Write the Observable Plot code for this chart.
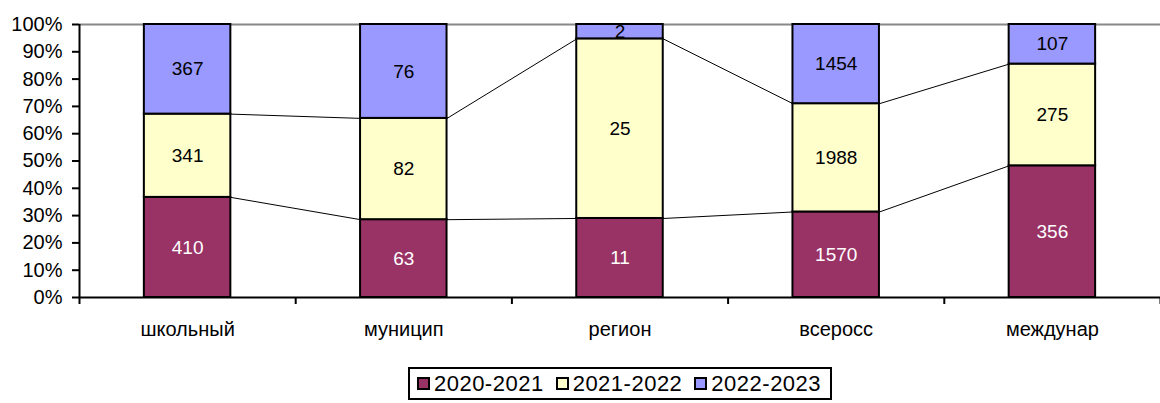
<!DOCTYPE html>
<html><head><meta charset="utf-8">
<script src="https://cdn.jsdelivr.net/npm/d3@7"></script>
<script src="https://cdn.jsdelivr.net/npm/@observablehq/plot@0.6"></script>
<style>
body{margin:0;background:#fff;font-family:"Liberation Sans",Arial,sans-serif;}
#legend{display:flex;justify-content:center;margin-top:7px;padding-left:80px;}
#legend .box{border:2px solid #000;display:flex;align-items:center;gap:12px;padding:0 9px 0 7px;height:33px;box-sizing:border-box;font-size:22px;letter-spacing:0.5px;}
#legend .it{display:flex;align-items:center;gap:4px;}
#legend .sw{width:9px;height:9px;border:2px solid #000;}
</style></head>
<body><div id="chart"></div><div id="legend"></div>
<script>
const categories = ["школьный","муницип","регион","всеросс","междунар"];
const series = ["2020-2021","2021-2022","2022-2023"];
const v2020 = [410,63,11,1570,356];
const v2021 = [341,82,25,1988,275];
const v2022 = [367,76,2,1454,107];
const colors = ["#993366","#FFFFCC","#9999FF"];
const labelColors = ["#fff","#000","#000"];

const valuesBySeries = [v2020, v2021, v2022];
const hw = 0.2;
const rects = [];
const tops = series.map(() => []);
categories.forEach((c, i) => {
  const total = valuesBySeries.reduce((a, s) => a + s[i], 0);
  let acc = 0;
  series.forEach((s, k) => {
    const v = valuesBySeries[k][i];
    const y1 = acc / total; acc += v; const y2 = acc / total;
    rects.push({i, s, k, v, y1, y2, ym: (y1 + y2) / 2});
    tops[k].push(y2);
  });
});
const links = [];
for (let k = 0; k < 2; k++) for (let i = 0; i < categories.length - 1; i++)
  links.push({x1: i + hw, x2: i + 1 - hw, y1: tops[k][i], y2: tops[k][i + 1]});

const font = "Liberation Sans, Arial, sans-serif";
const chart = Plot.plot({
  width: 1160, height: 360,
  marginLeft: 79, marginRight: 0, marginTop: 24, marginBottom: 63,
  style: {fontFamily: font, fontSize: "20px", color: "#000", background: "#fff"},
  x: {domain: [-0.5, categories.length - 0.5], axis: null},
  y: {domain: [0, 1], axis: null},
  marks: [
    Plot.ruleY([1], {stroke: "#888", strokeWidth: 2}),
    Plot.link(links, {x1: "x1", x2: "x2", y1: "y1", y2: "y2", stroke: "#000", strokeWidth: 1}),
    Plot.rectY(rects, {x1: d => d.i - hw, x2: d => d.i + hw, y1: "y1", y2: "y2", fill: d => colors[d.k], stroke: "#000", strokeWidth: 2}),
    Plot.text(rects, {x: "i", y: "ym", text: d => String(d.v), fill: d => labelColors[d.k], fontSize: 19, style: "letter-spacing:0.5px"}),
    Plot.axisY({ticks: d3.range(0, 1.0001, 0.1), tickFormat: d => Math.round(d * 100) + "%", tickSize: 7, tickPadding: 10, strokeWidth: 2, fontSize: 20}),
    Plot.axisX({ticks: d3.range(-0.5, categories.length, 1), tickFormat: () => "", tickSize: 7, strokeWidth: 2}),
    Plot.axisX({ticks: d3.range(categories.length), tickFormat: i => categories[i], tickSize: 0, tickPadding: 24, fontSize: 20}),
    Plot.ruleX([-0.5], {stroke: "#000", strokeWidth: 2}),
    Plot.ruleY([0], {stroke: "#000", strokeWidth: 2})
  ]
});
document.getElementById("chart").append(chart);

const box = document.createElement("div"); box.className = "box";
series.forEach((s, k) => {
  const it = document.createElement("div"); it.className = "it";
  const sw = document.createElement("div"); sw.className = "sw"; sw.style.background = colors[k];
  const t = document.createElement("span"); t.textContent = s;
  it.append(sw, t); box.append(it);
});
document.getElementById("legend").append(box);
</script></body></html>
